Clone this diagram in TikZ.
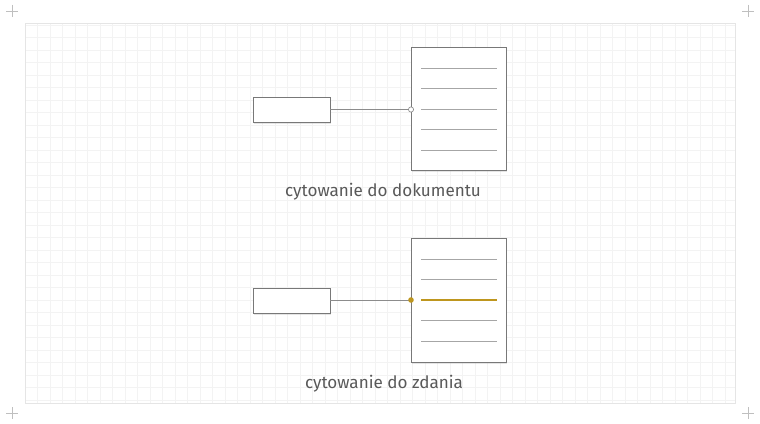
\documentclass[tikz,border=0pt]{standalone}
\usepackage{fontspec}
\setmainfont{Fira Sans}
\usetikzlibrary{shadows}
\definecolor{zloty}{RGB}{190,150,30}
\definecolor{siatka}{RGB}{243,243,243}
\definecolor{ramka}{RGB}{120,120,120}

\tikzset{
    kartka/.style={draw=ramka, fill=white, line width=0.6pt,
        drop shadow={shadow xshift=1pt, shadow yshift=-1.2pt, opacity=0.2}},
    wiersz/.style={draw=black!35, line width=0.7pt},
    podpis/.style={font=\fontsize{12.8pt}{15pt}\selectfont, text=black!65}
}

\begin{document}
\begin{tikzpicture}[x=0.75pt, y=-0.75pt]
        % background
        \fill[white] (0,0) rectangle (760,424);
        \useasboundingbox (0,0) rectangle (760,424);
        \draw[siatka, line width=0.3pt, step=9.375pt] (25,23) grid (735,403);
        \draw[black!10, line width=0.4pt] (25,23) rectangle (735,403);
        \foreach \cx/\cy in {12/11, 748/11, 12/413, 748/413}
            \draw[black!25, line width=0.4pt] (\cx-6,\cy) -- (\cx+6,\cy) (\cx,\cy-6) -- (\cx,\cy+6);

        % top: citation to a document
        \path[kartka] (253,97) rectangle (330,122);
        \coordinate (src1) at (330,109.5);
        \path[kartka] (411,47) rectangle (506,170);
        \coordinate (doc1) at (411,109.5);
        \foreach \ly in {68,88,109,129,150}
            \draw[wiersz] (421,\ly) -- (497,\ly);
        \draw[black!45, line width=0.6pt] (src1) -- (doc1);
        \filldraw[draw=black!45, fill=white, line width=0.5pt] (doc1) circle (2.6);
        \node[podpis] (lab1) at (383,192) {cytowanie do dokumentu};

        % bottom: citation to a sentence
        \path[kartka] (253,288) rectangle (330,313);
        \coordinate (src2) at (330,300);
        \path[kartka] (411,238) rectangle (506,362);
        \coordinate (doc2) at (411,300);
        \foreach \ly in {259,279,320,341}
            \draw[wiersz] (421,\ly) -- (497,\ly);
        \draw[zloty, line width=2pt] (421,300) -- (497,300);
        \draw[black!45, line width=0.6pt] (src2) -- (doc2);
        \fill[zloty] (doc2) circle (2.8);
        \node[podpis] (lab2) at (384,384) {cytowanie do zdania};

    \end{tikzpicture}
\end{document}
